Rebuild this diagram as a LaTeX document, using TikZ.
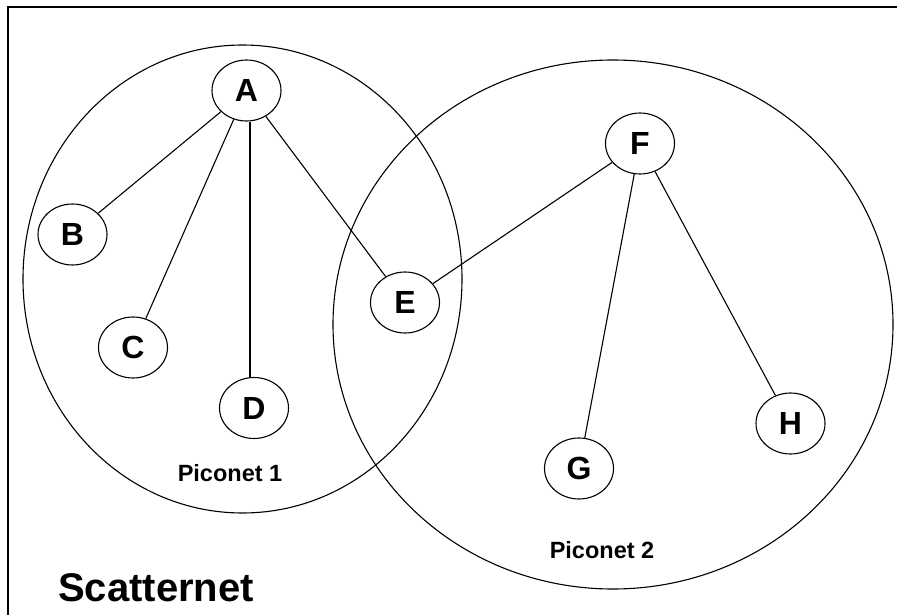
\documentclass[tikz,border=0pt]{standalone}
\usepackage{fontspec}
\setmainfont{Liberation Sans}
\usetikzlibrary{shapes.geometric}
\begin{document}
\begin{tikzpicture}[x=1pt,y=-1pt,
  dev/.style={draw,ellipse,line width=1.1pt,minimum width=69pt,minimum height=61pt,inner sep=0pt,font=\fontsize{32}{32}\selectfont\bfseries},
  link/.style={line width=1.1pt},
  net/.style={draw,line width=1.1pt},
  lbl/.style={font=\fontsize{23.5}{23.5}\selectfont\bfseries}]
\useasboundingbox (0,0) rectangle (897,615);
\draw[line width=2pt] (8,615) -- (8,7) -- (897,7);
\draw[net] (242.5,279) ellipse [x radius=219.5, y radius=234];
\draw[net] (613,324.5) ellipse [x radius=280, y radius=264.5];
\node[dev] (A) at (246.5,90.5) {A};
\node[dev] (B) at (72.5,234.5) {B};
\node[dev] (C) at (133,347.5) {C};
\node[dev] (D) at (254,408) {D};
\node[dev] (E) at (405,302.5) {E};
\node[dev] (F) at (640,143.5) {F};
\node[dev] (G) at (579,468.5) {G};
\node[dev] (H) at (790.5,423.5) {H};
\draw[link] (A) -- (B);
\draw[link] (A) -- (C);
\draw[link] (A.south) ++(3.5,0) coordinate (a1) -- (a1 |- D.north);
\draw[link] (A) -- (E);
\draw[link] (F) -- (E);
\draw[link] (F) -- (G);
\draw[link] (F) -- (H);
\node[lbl] (p1) at (230,473) {Piconet 1};
\node[lbl] (p2) at (602,550) {Piconet 2};
\node[font=\fontsize{40}{40}\selectfont\bfseries,anchor=west,inner sep=0pt] (s) at (58,588) {Scatternet};
\end{tikzpicture}
\end{document}
